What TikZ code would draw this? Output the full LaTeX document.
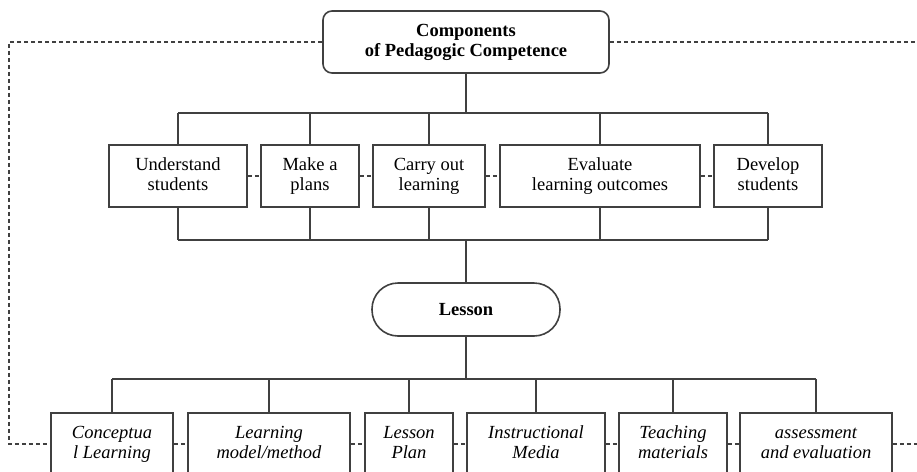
\documentclass[tikz,border=0pt]{standalone}
\usepackage{fontspec}
\setmainfont{Liberation Serif}
\newcommand\twol[2]{\strut #1\\\strut #2}
\begin{document}
\begin{tikzpicture}[x=1pt,y=-1pt,
  conn/.style={draw=black!75, line width=1.6pt},
  every node/.style={draw=black!75, line width=1.6pt, align=center, inner sep=0pt, font=\fontsize{18.5}{20}\selectfont},
  box/.style={rectangle, minimum height=62pt},
  lbox/.style={rectangle, minimum height=62pt, font=\fontsize{18.5}{20}\selectfont\itshape},
  link/.style={conn, dash pattern=on 4.5pt off 2.5pt}]
\useasboundingbox (0,0) rectangle (917,471);
\clip (0,0) rectangle (917,471);
% top
\node[rectangle, rounded corners=9pt, minimum width=286pt, minimum height=62pt, font=\fontsize{18.5}{20}\selectfont\bfseries] (top) at (466,42) {\twol{Components}{of Pedagogic Competence}};
% middle row
\node[box, minimum width=138pt] (u) at (178,176) {\twol{Understand}{students}};
\node[box, minimum width=98pt] (m) at (310,176) {\twol{Make a}{plans}};
\node[box, minimum width=112pt] (c) at (429,176) {\twol{Carry out}{learning}};
\node[box, minimum width=200pt] (e) at (600,176) {\twol{Evaluate}{learning outcomes}};
\node[box, minimum width=108pt] (d) at (768,176) {\twol{Develop}{students}};
% lesson
\node[rectangle, rounded corners=26pt, minimum width=188pt, minimum height=53pt, font=\fontsize{18.5}{20}\selectfont\bfseries] (les) at (466,309.5) {Lesson};
% bottom row
\node[lbox, minimum width=122pt] (b1) at (112,444) {\twol{Conceptua}{l Learning}};
\node[lbox, minimum width=162pt] (b2) at (269,444) {\twol{Learning}{model/method}};
\node[lbox, minimum width=88pt] (b3) at (409,444) {\twol{Lesson}{Plan}};
\node[lbox, minimum width=138pt] (b4) at (536,444) {\twol{Instructional}{Media}};
\node[lbox, minimum width=108pt] (b5) at (673,444) {\twol{Teaching}{materials}};
\node[lbox, minimum width=152pt] (b6) at (816,444) {\twol{assessment}{and evaluation}};
% buses
\coordinate (bt) at (466,113);
\coordinate (bm) at (466,240);
\coordinate (bb) at (466,379);
\draw[conn] (top.south) -- (bt);
\draw[conn] (u.north |- bt) -- (d.north |- bt);
\foreach \n in {u,m,c,e,d} {\draw[conn] (\n.north) -- (\n.north |- bt); \draw[conn] (\n.south) -- (\n.south |- bm);}
\draw[conn] (u.south |- bm) -- (d.south |- bm);
\draw[conn] (bm) -- (les.north);
\draw[conn] (les.south) -- (bb);
\draw[conn] (b1.north |- bb) -- (b6.north |- bb);
\foreach \n in {b1,b2,b3,b4,b5,b6} {\draw[conn] (\n.north) -- (\n.north |- bb);}
% dashed links
\draw[link] (u.east) -- (m.west);
\draw[link] (m.east) -- (c.west);
\draw[link] (c.east) -- (e.west);
\draw[link] (e.east) -- (d.west);
\draw[link] (b1.east) -- (b2.west);
\draw[link] (b2.east) -- (b3.west);
\draw[link] (b3.east) -- (b4.west);
\draw[link] (b4.east) -- (b5.west);
\draw[link] (b5.east) -- (b6.west);
\coordinate (L) at (9,200);
\coordinate (R1) at (917,42);
\coordinate (R2) at (917,444);
\draw[link] (top.west) -| (L) |- (b1.west);
\draw[link] (top.east) -- (R1);
\draw[link] (b6.east) -- (R2);
\end{tikzpicture}
\end{document}
